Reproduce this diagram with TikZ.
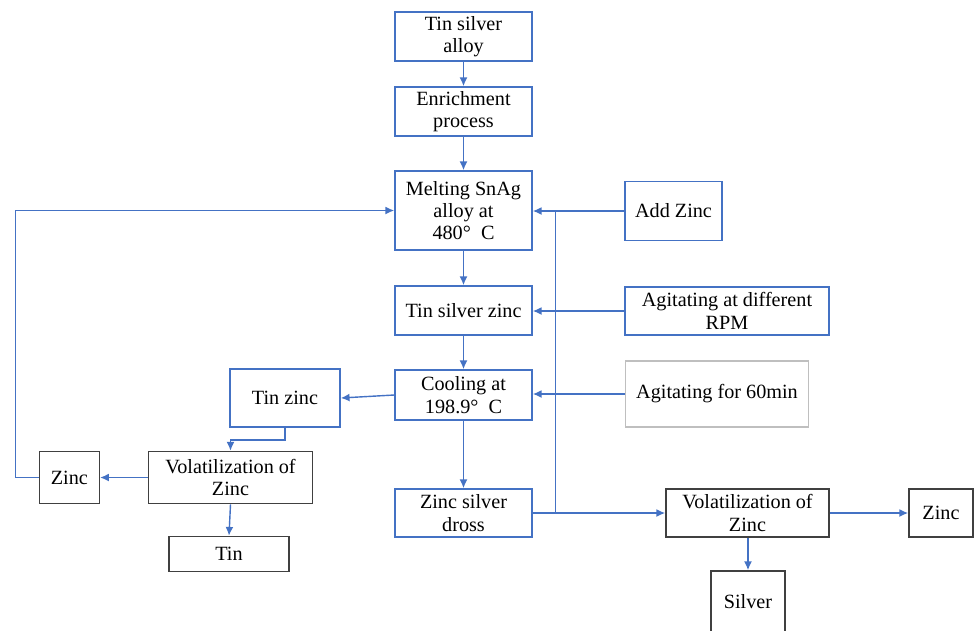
\documentclass[tikz,border=0pt]{standalone}
\usepackage{fontspec}
\setmainfont{Liberation Serif}
\usetikzlibrary{arrows.meta}
\definecolor{flowblue}{RGB}{68,114,196}
\definecolor{boxgrey}{RGB}{191,191,191}
\definecolor{boxdark}{RGB}{64,64,64}
\tikzset{
  box/.style={draw, line width=0.9pt, align=center, inner sep=0pt,
    font=\fontsize{11.5}{12.7}\selectfont},
  size/.style 2 args={minimum width=#1*0.02cm, minimum height=#2*0.02cm},
  bluebox/.style={box, draw=flowblue},
  darkbox/.style={box, draw=boxdark},
  greybox/.style={box, draw=boxgrey},
  flow/.style={draw=flowblue, line width=0.8pt, -{Latex[length=5pt,width=4.5pt]}},
  plainflow/.style={draw=flowblue, line width=0.8pt},
}

\begin{document}
\begin{tikzpicture}[x=0.02cm, y=-0.02cm]
		%%%%% FRAME %%%%%
		\useasboundingbox (0,0) rectangle (974,630);
		\clip (0,0) rectangle (974,630);
		
		%%%%% MAIN LINE %%%%%
		\node[bluebox, size={137}{49}] (alloy) at (463.5,36.5) {Tin silver\\alloy};
		\node[bluebox, size={137}{49}] (enrich) at (463.5,111.5) {Enrichment\\process};
		\node[bluebox, size={137}{79}] (melt) at (463.5,210.5) {Melting SnAg\\alloy at\\480°\enspace C};
		\node[bluebox, size={137}{49}] (tsz) at (463.5,310.5) {Tin silver zinc};
		\node[bluebox, size={137}{50}] (cool) at (463.5,395) {Cooling at\\198.9°\enspace C};
		\node[bluebox, size={137}{48}] (dross) at (463.5,513) {Zinc silver\\dross};
		
		%%%%% INPUTS %%%%%
		\node[bluebox, size={97}{59}] (addzn) at (673.5,211) {Add Zinc};
		\node[bluebox, size={204}{48}] (rpm) at (727,311) {Agitating at different\\RPM};
		\node[greybox, size={183}{66}] (agit) at (717,394) {Agitating for 60min};
		
		%%%%% LEFT BRANCH %%%%%
		\node[bluebox, size={110}{58}] (tinzn) at (285,398) {Tin zinc};
		\node[darkbox, size={164}{52}] (volL) at (230.5,477.5) {Volatilization of\\Zinc};
		\node[darkbox, size={60}{52}] (znL) at (69.3,477.5) {Zinc};
		\node[darkbox, size={120}{35}] (tin) at (229,554) {Tin};
		
		%%%%% RIGHT BRANCH %%%%%
		\node[darkbox, size={163}{48}] (volR) at (747.5,513) {Volatilization of\\Zinc};
		\node[darkbox, size={64}{48}] (znR) at (941,513) {Zinc};
		\node[darkbox, size={74}{62}] (silver) at (748,602) {Silver};
		
		\coordinate (loop) at (15.7,0);
		\coordinate (jn) at (555.7,0);
		
		%%%%% CONNECTORS %%%%%
		\draw[flow] (alloy) -- (enrich);
		\draw[flow] (enrich) -- (melt);
		\draw[flow] (melt) -- (tsz);
		\draw[flow] (tsz) -- (cool);
		\draw[flow] (cool) -- (dross);
		
		\draw[flow] (addzn.west) -- (melt.east |- addzn.west);
		\draw[flow] (rpm.west) -- (tsz.east |- rpm.west);
		\draw[flow] (agit.west) -- (cool.east |- agit.west);
		
		\draw[flow] (dross.east) -- (volR.west);
		\draw[plainflow] (dross.east -| jn) -- (addzn.west -| jn);
		\draw[flow] (volR.east) -- (znR.west);
		\draw[flow] (volR.south -| silver.north) -- (silver.north);
		
		\draw[flow] (cool.west) -- (tinzn.east);
		\draw[flow] (tinzn.south) -- ++(0,12) -| (volL.north);
		\draw[flow] (volL.west) -- (znL.east);
		\draw[flow] (volL.south) -- (tin.north);
		\draw[flow] (znL.west) -- (loop |- znL.west) |- (melt.west);
		
	\end{tikzpicture}
\end{document}
